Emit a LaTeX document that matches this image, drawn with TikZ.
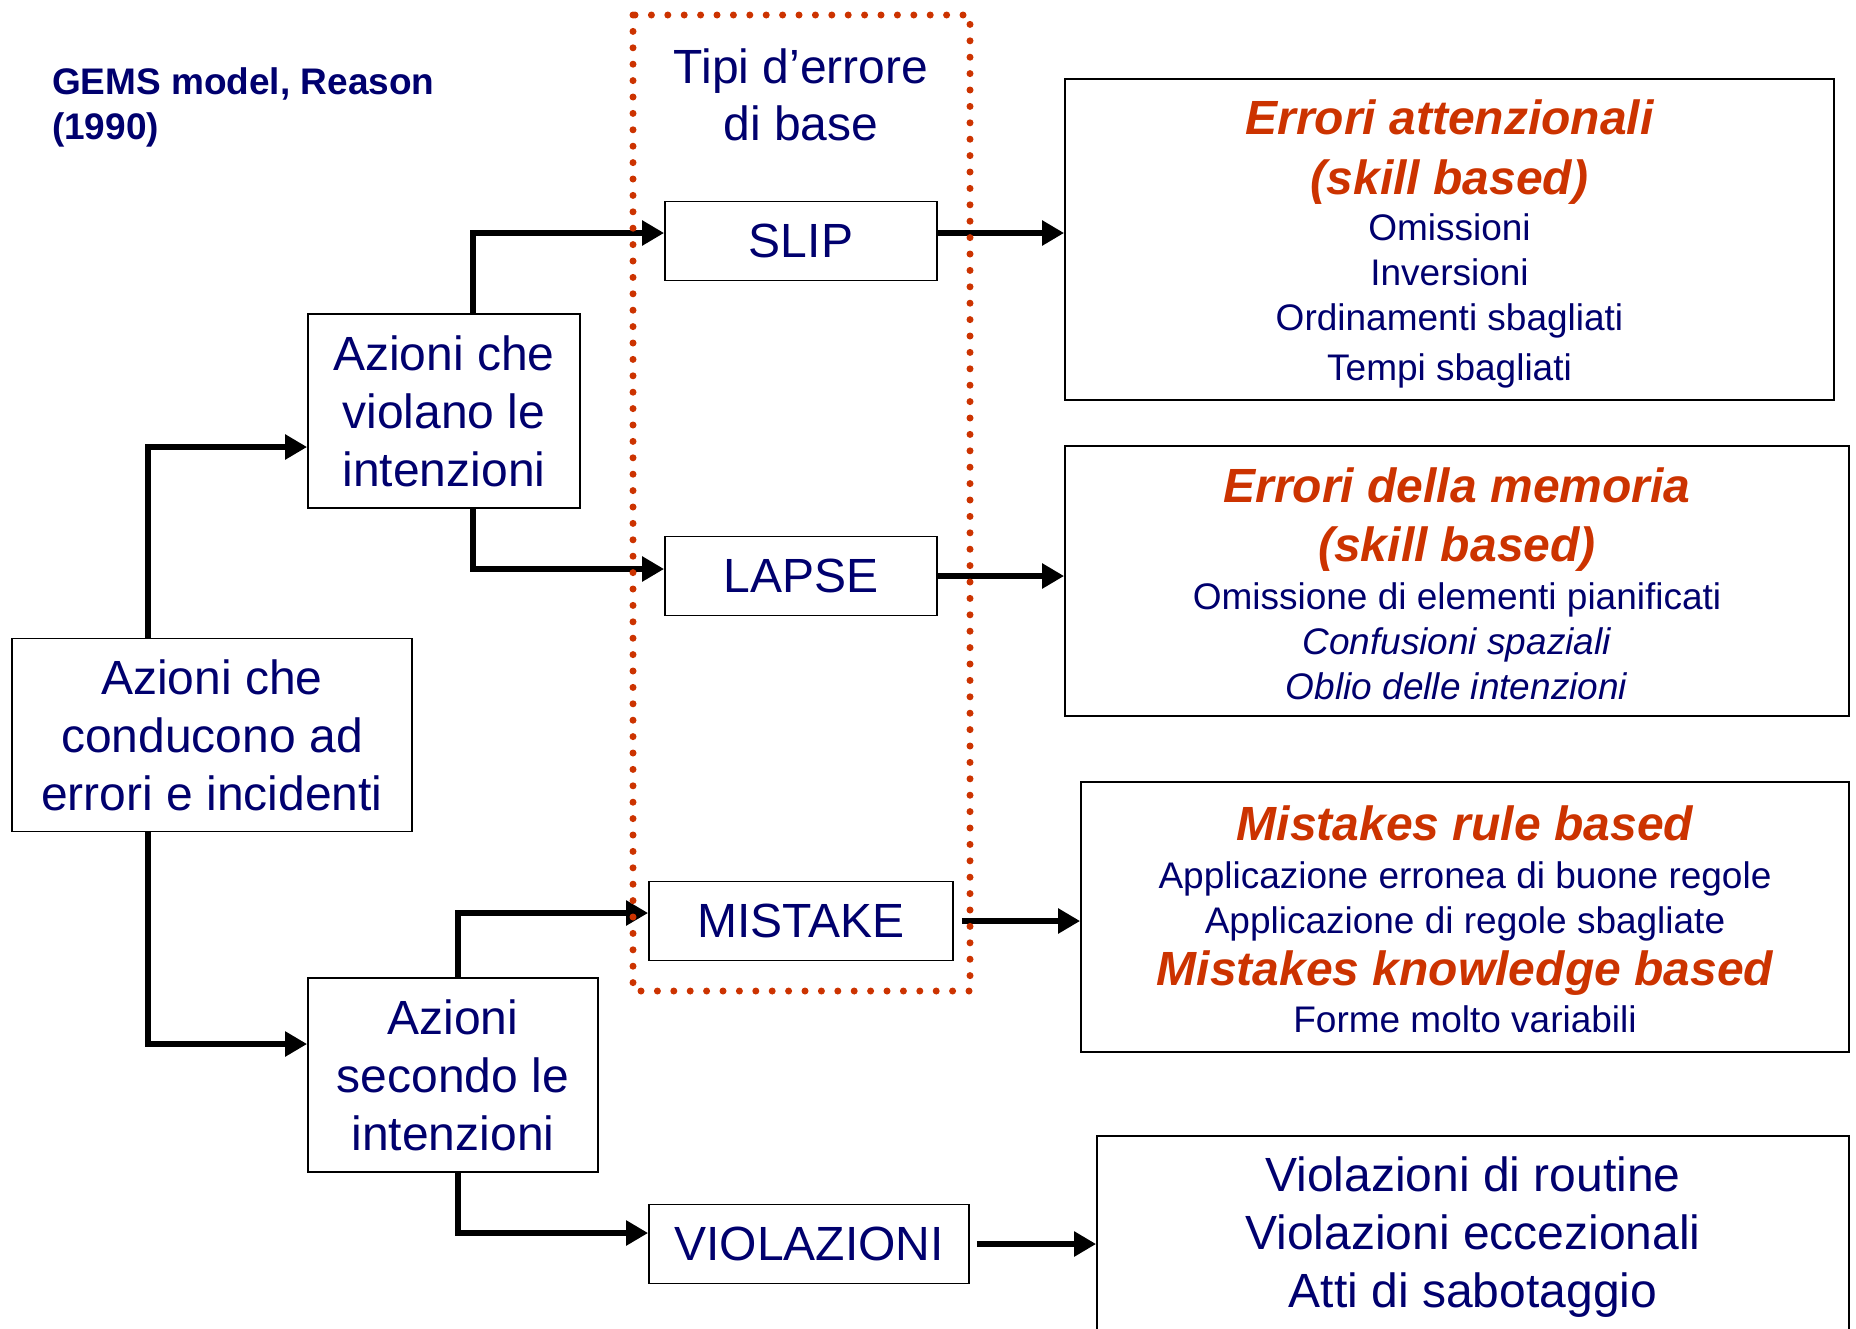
\documentclass[tikz,border=0pt]{standalone}
\usepackage{fontspec}
\setmainfont{Liberation Sans}
\usepackage{tikz}
\usetikzlibrary{arrows.meta,positioning,calc}
\definecolor{gemsblue}{RGB}{0,0,110}
\definecolor{errred}{RGB}{204,51,0}
\tikzset{
  box/.style={
      draw,
      line width=0.9pt,
      fill=white,
      align=center,
      inner sep=0pt,
      font=\fontsize{24}{29}\selectfont,
  },
  tipo/.style={
      box,
      minimum height=39.5pt,
  },
  descr/.style={
      draw,
      line width=0.9pt,
      align=center,
      inner sep=0pt,
      font=\fontsize{18.5}{22.5}\selectfont,
  },
  cornice/.style={
      draw=errred,
      line width=3.5pt,
      line cap=round,
      dash pattern=on 0pt off 8.2pt,
  },
  freccia/.style={
      ->,
      line width=2.8pt,
  },
}
\newcommand{\errtitle}[1]{%
%     {\color{red} #1}
    \textcolor{errred}{\fontsize{24}{29}\selectfont\bfseries\itshape #1}}

\begin{document}
\begin{tikzpicture}[x=0.5pt, y=-0.5pt, >={Triangle[length=11pt,width=12pt]}]
  \tikzstyle{every node}=[text=gemsblue]
  \useasboundingbox (0,0) rectangle (1856,1328);

  \node (titolo) [anchor=west, align=left, font=\fontsize{18.5}{22.5}\selectfont\bfseries] at (45,107) {GEMS model, Reason\\(1990)};

  % azioni
  \node (conducono) [box, minimum width=200pt, minimum height=96.5pt] at (212,735) {Azioni che\\conducono ad\\errori e incidenti};
  \node (violano) [box, minimum width=136pt, minimum height=97pt] at (444,411) {Azioni che\\violano le\\intenzioni};
  \node (secondo) [box, minimum width=145pt, minimum height=97pt] at (453,1075) {Azioni\\secondo le\\intenzioni};

  % tipi d'errore
  \node (tipi) [align=center, font=\fontsize{24}{28.5}\selectfont] at (801,95) {Tipi d’errore\\di base};
  \node (slip) [tipo, minimum width=136pt] at (801,241) {SLIP};
  \node (lapse) [tipo, minimum width=136pt] at (801,576) {LAPSE};
  \node (mistake) [tipo, minimum width=152pt] at (801,921) {MISTAKE};
  \node (violazioni) [tipo, minimum width=160pt] at (809,1244) {VIOLAZIONI};

  % descrizioni
  \node (attenzionali) [descr, minimum width=384.5pt, minimum height=160.5pt] at (1449.5,239.5) {};
  \node (attenzionalitxt) [align=center, font=\fontsize{18.5}{22.5}\selectfont] at (1449.5,244) {
      \errtitle{Errori attenzionali}
      \\[7.5pt]\errtitle{(skill based)}
      \\[0.8pt]Omissioni
      \\Inversioni
      \\Ordinamenti sbagliati
      \\[2.5pt]Tempi sbagliati};
  \node (memoria) [descr, minimum width=392pt, minimum height=135pt] at (1457,581) {};
  \node (memoriatxt) [align=center, font=\fontsize{18.5}{22.5}\selectfont] at (1457,584) {
      \errtitle{Errori della memoria}
      \\[7pt]\errtitle{(skill based)}
      \\[1.5pt]Omissione di elementi pianificati
      \\\textit{Confusioni spaziali}
      \\\textit{Oblio delle intenzioni}};
  \node (regole) [descr, minimum width=384pt, minimum height=135pt] at (1465,917) {};
  \node (regoletxt) [align=center, font=\fontsize{18.5}{22.5}\selectfont] at (1465,919) {
      \errtitle{Mistakes rule based}
      \\[1.5pt]Applicazione erronea di buone regole
      \\Applicazione di regole sbagliate
      \\[3.5pt]\errtitle{Mistakes knowledge based}
      \\[1.2pt]Forme molto variabili};
  \node (routine) [descr, minimum width=376pt, minimum height=101pt, font=\fontsize{24}{29}\selectfont] at (1473,1237) {
      Violazioni di routine
      \\Violazioni eccezionali
      \\Atti di sabotaggio};

  \draw[freccia] ([xshift=-32pt]conducono.north) |- ([yshift=-18pt]violano.west);
  \draw[freccia] ([xshift=-32pt]conducono.south) |- ([yshift=15.5pt]secondo.west);
  \draw[freccia] ([xshift=14.5pt]violano.north) |- ([yshift=4pt]slip.west);
  \draw[freccia] ([xshift=14.5pt]violano.south) |- ([yshift=3.5pt]lapse.west);
  \draw[freccia] ([xshift=2.5pt]secondo.north) |- ([yshift=4pt]mistake.west);
  \draw[freccia] ([xshift=2.5pt]secondo.south) |- ([yshift=5.5pt]violazioni.west);

  \draw[freccia] ([yshift=4pt]slip.east) -- ([yshift=4pt]slip.east -| attenzionali.west);
  \draw[freccia] (lapse.east) -- (lapse.east -| memoria.west);
  \draw[freccia, shorten <=4pt] (mistake.east) -- (mistake.east -| regole.west);
  \draw[freccia, shorten <=3.5pt] (violazioni.east) -- (violazioni.east -| routine.west);

  \draw[cornice] (633,15) rectangle (970,991);
\end{tikzpicture}
\end{document}
